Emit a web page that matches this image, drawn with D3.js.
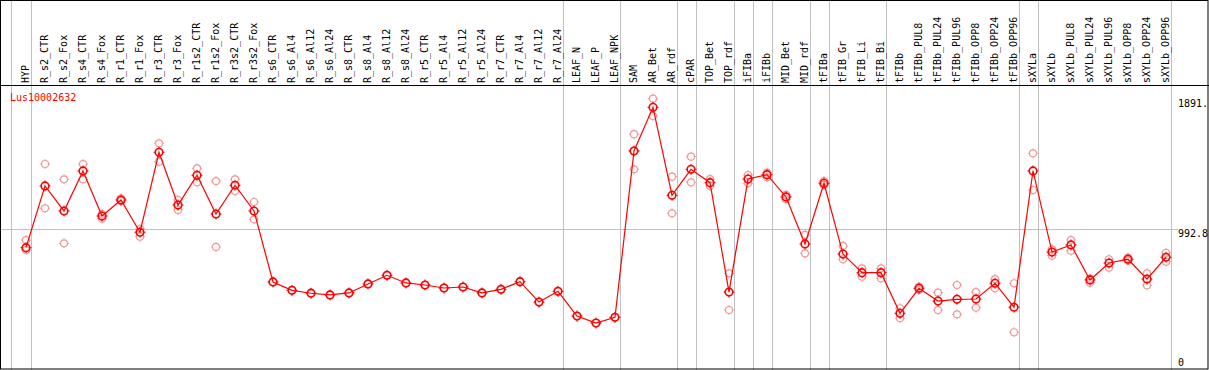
<!DOCTYPE html>
<html lang="en">
<head>
  <meta charset="UTF-8">
  <title>Lus10002632 expression</title>
  <script src="https://d3js.org/d3.v7.min.js"></script>
  <style>
    body { margin: 0; background: #fff; }
    svg { display: block; }
    .lbl { font: 10px "DejaVu Sans Mono", monospace; }
    .grid { stroke: #c0c0c0; stroke-width: 1px; }
  </style>
</head>
<body>
  <div id="chart"></div>
  <script>
    const categories = ['HYP','R_s2_CTR','R_s2_Fox','R_s4_CTR','R_s4_Fox','R_r1_CTR','R_r1_Fox','R_r3_CTR','R_r3_Fox',
      'R_r1s2_CTR','R_r1s2_Fox','R_r3s2_CTR','R_r3s2_Fox','R_s6_CTR','R_s6_Al4','R_s6_Al12','R_s6_Al24',
      'R_s8_CTR','R_s8_Al4','R_s8_Al12','R_s8_Al24','R_r5_CTR','R_r5_Al4','R_r5_Al12','R_r5_Al24',
      'R_r7_CTR','R_r7_Al4','R_r7_Al12','R_r7_Al24','LEAF_N','LEAF_P','LEAF_NPK','SAM','AR_Bet','AR_rdf',
      'cPAR','TOP_Bet','TOP_rdf','iFIBa','iFIBb','MID_Bet','MID_rdf','tFIBa','tFIB_Gr','tFIB_Li','tFIB_Bi',
      'tFIBb','tFIBb_PUL8','tFIBb_PUL24','tFIBb_PUL96','tFIBb_OPP8','tFIBb_OPP24','tFIBb_OPP96',
      'sXYLa','sXYLb','sXYLb_PUL8','sXYLb_PUL24','sXYLb_PUL96','sXYLb_OPP8','sXYLb_OPP24','sXYLb_OPP96'];

    // mean expression per sample
    const meanValues = [860,1287,1114,1391,1079,1190,967,1520,1155,1361,1093,1292,1114,
      623,565,545,533,547,609,669,616,602,581,588,547,572,625,484,558,
      387,339,378,1529,1831,1222,1402,1310,553,1335,1365,1211,886,1306,816,687,687,
      406,579,491,503,505,614,448,1391,830,879,637,754,780,643,794];

    // individual replicates
    const repValues = [[913,844],[1439,1133],[1333,890],[1439,1333],[1093,1061],[1202,1183],[989,936],
      [1582,1455],[1190,1121],[1409,1312],[1321,865],[1333,1252],[1176,1056],
      [623],[565],[545],[533],[547],[609],[669],[616],[602],[581],[588],[547],[572],[625],[484],[558],
      [387],[339],[378],[1645,1529,1402],[1891,1771],[1351,1098],[1490,1312],[1335,1287],[683,429],
      [1363,1306],[1379,1347],[1225,1195],[948,821],[1321,1294],[872,780],[717,659],[717,648],
      [441,372],[590,567],[549,429],[602,399],[553,445],[643,579],[614,275],[1513,1259],
      [849,805],[913,839],[646,618],[780,722],[791,770],[683,600],[825,763]];

    // samples that close a group (grey separator on their right)
    const groupEnds = ['HYP','R_r7_Al24','LEAF_NPK','AR_rdf','cPAR','TOP_rdf','iFIBa','iFIBb','MID_rdf',
      'tFIBa','tFIB_Bi','tFIBb_OPP96','sXYLa','sXYLb_OPP96'];
    const geneName = 'Lus10002632';

    const W = 1209, H = 370, headerY = 85;
    const maxVal = d3.max(repValues.flat().concat(meanValues));
    const yTop = maxVal * 1.05;

    const x = d3.scalePoint().domain(categories).range([26, 1166]);
    const y = d3.scaleLinear().domain([0, yTop]).range([372, headerY]);

    const svg = d3.select('#chart').append('svg').attr('width', W).attr('height', H);

    // grey separators
    const sepX = [x(categories[0]) - 15.5].concat(groupEnds.map(c => x(c) + 4.7));
    svg.selectAll('line.sep').data(sepX).join('line')
      .attr('class', 'grid').attr('x1', d => Math.round(d) + 0.5).attr('x2', d => Math.round(d) + 0.5)
      .attr('y1', 0).attr('y2', H);
    svg.append('line').attr('class', 'grid')
      .attr('x1', 1).attr('x2', 1178)
      .attr('y1', Math.round(y(yTop / 2)) + 0.5).attr('y2', Math.round(y(yTop / 2)) + 0.5);

    // frame and header rule
    svg.append('rect').attr('x', 0.5).attr('y', 0.5).attr('width', W - 1.5).attr('height', H - 1.5)
      .attr('fill', 'none').attr('stroke', '#000');
    svg.append('line').attr('x1', 0).attr('x2', W).attr('y1', headerY + 0.5).attr('y2', headerY + 0.5)
      .attr('stroke', '#000');

    // rotated sample names
    svg.selectAll('text.cat').data(categories).join('text')
      .attr('class', 'lbl cat')
      .attr('transform', d => `translate(${x(d) + 3},83) rotate(-90)`)
      .text(d => d);

    // right value labels
    const ticks = [maxVal, yTop / 2, 0];
    svg.selectAll('text.tick').data(ticks).join('text')
      .attr('class', 'lbl tick')
      .attr('x', 1178)
      .attr('y', d => d === 0 ? 366 : y(d) + 8)
      .text(d => d === 0 ? '0' : (d === maxVal ? d.toFixed(1).slice(0, 5) : d.toFixed(1)));

    svg.append('text').attr('class', 'lbl').attr('x', 10).attr('y', 101)
      .attr('fill', '#ff0000').text(geneName);

    // replicates
    const reps = [];
    repValues.forEach((r, i) => r.forEach(v => reps.push({ c: categories[i], v })));
    svg.selectAll('g.rep').data(reps).join('g')
      .attr('class', 'rep')
      .attr('transform', d => `translate(${x(d.c)},${y(d.v)})`)
      .call(g => {
        g.append('circle').attr('r', 3.5).attr('fill', 'none').attr('stroke', '#f09a9a').attr('stroke-width', 1.2);
        g.append('path').attr('d', 'M0,-5V-3.5M0,3.5V5M-5,0H-3.5M3.5,0H5').attr('stroke', '#f09a9a');
      });

    // mean line
    const line = d3.line().x((d, i) => x(categories[i])).y(d => y(d));
    svg.append('path').datum(meanValues).attr('d', line)
      .attr('fill', 'none').attr('stroke', '#ff0000').attr('stroke-width', 1.2);

    svg.selectAll('g.pt').data(meanValues).join('g')
      .attr('class', 'pt')
      .attr('transform', (d, i) => `translate(${x(categories[i])},${y(d)})`)
      .call(g => {
        g.append('circle').attr('r', 3.8).attr('fill', 'none').attr('stroke', '#ff0000').attr('stroke-width', 1.6);
        g.append('path').attr('d', 'M0,-5.5V-4M0,4V5.5M-5.5,0H-4M4,0H5.5').attr('stroke', '#ff0000');
      });
  </script>
</body>
</html>
